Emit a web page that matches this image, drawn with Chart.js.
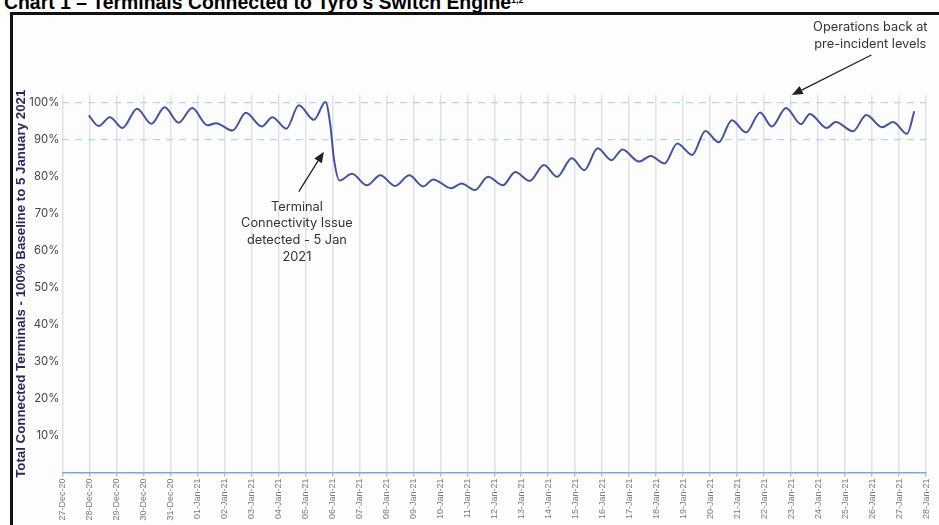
<!DOCTYPE html>
<html>
<head>
<meta charset="utf-8">
<script src="https://cdn.jsdelivr.net/npm/chart.js@4"></script>
<style>
  html, body { margin: 0; padding: 0; background: #fff; }
  #wrap { position: relative; width: 939px; height: 525px; overflow: hidden; }
  #title { position: absolute; left: 4px; top: -9px; line-height: 19px; white-space: nowrap;
           font: bold 19.4px "Liberation Sans", Arial, sans-serif; color: #000; }
  #title sup { font-size: 9px; vertical-align: 6px; }
  #box { position: absolute; left: 10px; top: 12px; width: 960px; height: 540px;
         border-top: 3px solid #111; border-left: 3px solid #111; background: #fdfdfd; }
  #chart { position: absolute; left: 0; top: 0; }
</style>
</head>
<body>
<div id="wrap">
  <div id="title">Chart 1 – Terminals Connected to Tyro's Switch Engine<sup>1,2</sup></div>
  <div id="box"></div>
  <canvas id="chart" width="939" height="525"></canvas>
</div>
<script>
// Etiquetas del eje X (un día por marca, 27-Dec-20 = 0)
const dateLabels = [
  '27-Dec-20', '28-Dec-20', '29-Dec-20', '30-Dec-20', '31-Dec-20',
  '01-Jan-21', '02-Jan-21', '03-Jan-21', '04-Jan-21', '05-Jan-21', '06-Jan-21',
  '07-Jan-21', '08-Jan-21', '09-Jan-21', '10-Jan-21', '11-Jan-21', '12-Jan-21',
  '13-Jan-21', '14-Jan-21', '15-Jan-21', '16-Jan-21', '17-Jan-21', '18-Jan-21',
  '19-Jan-21', '20-Jan-21', '21-Jan-21', '22-Jan-21', '23-Jan-21', '24-Jan-21',
  '25-Jan-21', '26-Jan-21', '27-Jan-21', '28-Jan-21'
];
const yTicks = [10, 20, 30, 40, 50, 60, 70, 80, 90, 100];
const refLines = [90, 100];

// Días desde 27-Dec-20 y % de terminales conectados
const dayOffsets = [
  0.98, 1.35, 1.76, 2.23, 2.77, 3.30, 3.79, 4.31, 4.81, 5.38, 5.69, 6.31, 6.80,
  7.39, 7.78, 8.30, 8.76, 9.32, 9.75, 9.93, 10.06, 10.27, 10.73, 11.28, 11.78,
  12.33, 12.85, 13.37, 13.74, 14.40, 14.79, 15.28, 15.77, 16.32, 16.78, 17.31,
  17.84, 18.33, 18.87, 19.34, 19.83, 20.34, 20.75, 21.36, 21.79, 22.31, 22.78,
  23.33, 23.82, 24.31, 24.80, 25.33, 25.85, 26.28, 26.81, 27.36, 27.69, 28.31,
  28.65, 29.29, 29.78, 30.37, 30.77, 31.29, 31.56
];
const pctValues = [
  96.5, 93.6, 96.0, 93.1, 98.3, 94.2, 98.7, 94.5, 98.5, 93.8, 94.4, 92.4, 97.2,
  93.5, 96.0, 92.9, 99.2, 95.3, 100.1, 93.8, 84.8, 78.9, 80.7, 77.6, 80.3,
  77.4, 80.3, 77.3, 79.2, 76.8, 78.1, 76.3, 79.9, 77.6, 81.2, 78.8,
  83.1, 79.9, 84.9, 81.7, 87.6, 84.4, 87.3, 84.0, 85.5, 83.5, 88.9,
  85.8, 92.3, 89.2, 95.2, 91.9, 97.3, 93.5, 98.5, 94.1, 96.9, 93.1,
  94.7, 92.2, 96.6, 93.3, 94.7, 91.5, 97.6
];

// Notas con flecha, en unidades de datos (día, %)
const notes = [
  { lines: ['Terminal', 'Connectivity Issue', 'detected - 5 Jan', '2021'],
    at: [8.69, 71.8], tail: [8.76, 75.9], tip: [9.69, 86.7] },
  { lines: ['Operations back at', 'pre-incident levels'],
    at: [29.93, 120.4], tail: [29.97, 112.8], tip: [27.02, 102.0] }
];

const notesPlugin = {
  id: 'notes',
  afterDraw(chart) {
    const { ctx, scales: { x, y } } = chart;
    ctx.save();
    ctx.fillStyle = '#333';
    ctx.strokeStyle = '#222';
    ctx.font = '12.8px Inter, "Noto Sans", sans-serif';
    ctx.textAlign = 'center';
    ctx.textBaseline = 'middle';
    notes.forEach(n => {
      const cx = x.getPixelForValue(n.at[0]);
      const cy = y.getPixelForValue(n.at[1]);
      n.lines.forEach((t, i) => ctx.fillText(t, cx, cy + i * 16.8));

      const x0 = x.getPixelForValue(n.tail[0]), y0 = y.getPixelForValue(n.tail[1]);
      const x1 = x.getPixelForValue(n.tip[0]), y1 = y.getPixelForValue(n.tip[1]);
      const ang = Math.atan2(y1 - y0, x1 - x0);
      const hl = 11, hw = 4.5;
      ctx.lineWidth = 1.3;
      ctx.beginPath();
      ctx.moveTo(x0, y0);
      ctx.lineTo(x1 - hl * Math.cos(ang), y1 - hl * Math.sin(ang));
      ctx.stroke();
      ctx.beginPath();
      ctx.moveTo(x1, y1);
      ctx.lineTo(x1 - hl * Math.cos(ang) + hw * Math.sin(ang), y1 - hl * Math.sin(ang) - hw * Math.cos(ang));
      ctx.lineTo(x1 - hl * Math.cos(ang) - hw * Math.sin(ang), y1 - hl * Math.sin(ang) + hw * Math.cos(ang));
      ctx.closePath();
      ctx.fillStyle = '#222';
      ctx.fill();
      ctx.fillStyle = '#333';
    });
    ctx.restore();
  }
};

const ctx = document.getElementById('chart').getContext('2d');
new Chart(ctx, {
  type: 'line',
  data: {
    datasets: [{
      data: dayOffsets.map((d, i) => ({ x: d, y: pctValues[i] })),
      borderColor: '#4352a3',
      borderWidth: 2,
      pointRadius: 0,
      cubicInterpolationMode: 'monotone',
      fill: false
    }]
  },
  options: {
    responsive: false,
    animation: false,
    layout: { padding: { left: 0, right: 9, top: 95, bottom: 0 } },
    plugins: { legend: { display: false }, tooltip: { enabled: false } },
    scales: {
      x: {
        type: 'linear',
        min: 0,
        max: dateLabels.length - 1,
        afterBuildTicks: s => { s.ticks = dateLabels.map((_, i) => ({ value: i })); },
        afterFit: s => { s.height = 52.5; },
        ticks: {
          autoSkip: false,
          minRotation: 90,
          maxRotation: 90,
          padding: 2,
          color: '#7a7a7a',
          font: { family: '"Liberation Sans", Arial, sans-serif', size: 9 },
          callback: v => dateLabels[v]
        },
        grid: { color: '#e2e2e2', lineWidth: 1.5, tickColor: '#7ea6dc', tickLength: 4, tickWidth: 1 },
        border: { color: '#7ea6dc', width: 1.5 }
      },
      y: {
        min: 0,
        max: 102,
        afterBuildTicks: s => { s.ticks = yTicks.map(v => ({ value: v })); },
        afterFit: s => { s.width = 62.3; },
        ticks: {
          padding: 3,
          color: '#444',
          font: { family: 'Inter, "Noto Sans", sans-serif', size: 11.3 },
          callback: v => v + '%'
        },
        grid: {
          drawTicks: false,
          lineWidth: 1.2,
          color: c => refLines.includes(c.tick && c.tick.value) ? '#a9dcf1' : 'rgba(0,0,0,0)'
        },
        border: { display: false, dash: [7, 6] },
        title: {
          display: true,
          text: 'Total Connected Terminals - 100% Baseline to 5 January 2021',
          color: '#27285e',
          font: { family: '"Liberation Sans", Arial, sans-serif', weight: 'bold', size: 13.3 },
          padding: { top: 13, bottom: 0 }
        }
      }
    }
  },
  plugins: [notesPlugin]
});
</script>
</body>
</html>
